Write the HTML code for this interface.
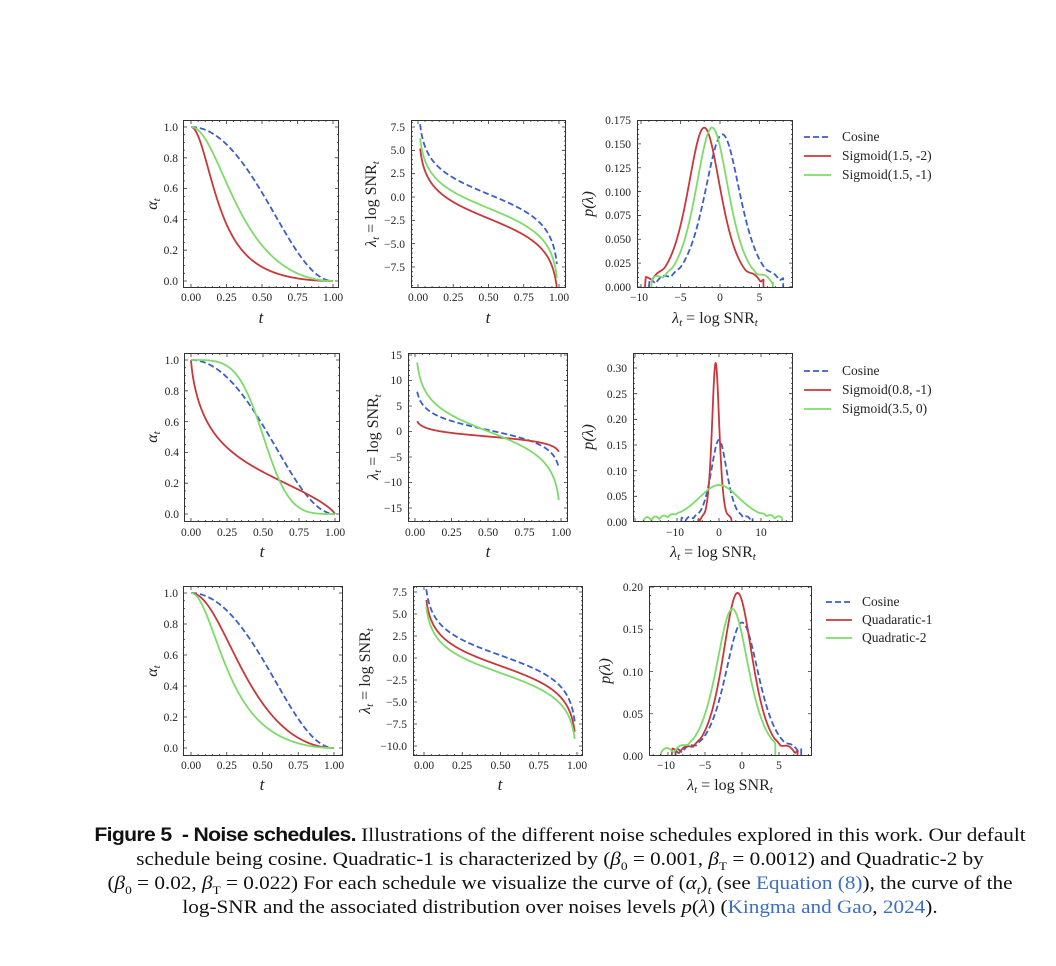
<!DOCTYPE html>
<html><head><meta charset="utf-8">
<style>
html,body{margin:0;padding:0;background:#fff;}
body{width:1056px;height:966px;position:relative;overflow:hidden;font-family:"Liberation Serif",serif;}
svg{position:absolute;left:0;top:0;}
.cap{position:absolute;left:32px;width:1056px;text-align:center;font-size:19px;color:#111;white-space:nowrap;transform:scaleX(1.115);transform-origin:528px 0;}
.b{font-family:"Liberation Sans",sans-serif;font-weight:bold;letter-spacing:-0.6px;}
.l{color:#3a6fc4;}
</style></head><body>
<svg id="s" width="1056" height="966" viewBox="0 0 1056 966" font-family="Liberation Serif, serif" fill="#222">
<g font-size="11.5" text-anchor="end">
<text x="178" y="131">1.0</text><text x="178" y="162">0.8</text><text x="178" y="192">0.6</text><text x="178" y="223">0.4</text><text x="178" y="254">0.2</text><text x="178" y="285">0.0</text>
<text x="405" y="131">7.5</text><text x="405" y="154">5.0</text><text x="405" y="177">2.5</text><text x="405" y="201">0.0</text><text x="405" y="224">−2.5</text><text x="405" y="248">−5.0</text><text x="405" y="271">−7.5</text>
<text x="631" y="124">0.175</text><text x="631" y="148">0.150</text><text x="631" y="172">0.125</text><text x="631" y="196">0.100</text><text x="631" y="219">0.075</text><text x="631" y="243">0.050</text><text x="631" y="267">0.025</text><text x="631" y="291">0.000</text>
<text x="179" y="364">1.0</text><text x="179" y="395">0.8</text><text x="179" y="426">0.6</text><text x="179" y="456">0.4</text><text x="179" y="487">0.2</text><text x="179" y="518">0.0</text>
<text x="402" y="359">15</text><text x="402" y="384">10</text><text x="402" y="410">5</text><text x="402" y="435">0</text><text x="402" y="461">−5</text><text x="402" y="486">−10</text><text x="402" y="512">−15</text>
<text x="627" y="372">0.30</text><text x="627" y="398">0.25</text><text x="627" y="423">0.20</text><text x="627" y="449">0.15</text><text x="627" y="475">0.10</text><text x="627" y="500">0.05</text><text x="627" y="526">0.00</text>
<text x="178" y="597">1.0</text><text x="178" y="628">0.8</text><text x="178" y="659">0.6</text><text x="178" y="690">0.4</text><text x="178" y="721">0.2</text><text x="178" y="752">0.0</text>
<text x="407" y="596">7.5</text><text x="407" y="618">5.0</text><text x="407" y="640">2.5</text><text x="407" y="662">0.0</text><text x="407" y="684">−2.5</text><text x="407" y="706">−5.0</text><text x="407" y="728">−7.5</text><text x="407" y="750">−10.0</text>
<text x="643" y="591">0.20</text><text x="643" y="633">0.15</text><text x="643" y="676">0.10</text><text x="643" y="718">0.05</text><text x="643" y="760">0.00</text>
</g>
<g font-size="11.5" text-anchor="middle">
<text x="191" y="301">0.00</text><text x="226.5" y="301">0.25</text><text x="262" y="301">0.50</text><text x="297.5" y="301">0.75</text><text x="333" y="301">1.00</text>
<text x="418" y="301">0.00</text><text x="453.3" y="301">0.25</text><text x="488.5" y="301">0.50</text><text x="523.8" y="301">0.75</text><text x="559" y="301">1.00</text>
<text x="639" y="301">−10</text><text x="680.5" y="301">−5</text><text x="720" y="301">0</text><text x="759.5" y="301">5</text>
<text x="191" y="536">0.00</text><text x="227" y="536">0.25</text><text x="263" y="536">0.50</text><text x="299" y="536">0.75</text><text x="335" y="536">1.00</text>
<text x="415" y="536">0.00</text><text x="451.5" y="536">0.25</text><text x="488" y="536">0.50</text><text x="524.5" y="536">0.75</text><text x="561" y="536">1.00</text>
<text x="675" y="536">−10</text><text x="719" y="536">0</text><text x="761" y="536">10</text>
<text x="191" y="769">0.00</text><text x="226.8" y="769">0.25</text><text x="262.5" y="769">0.50</text><text x="298.3" y="769">0.75</text><text x="334" y="769">1.00</text>
<text x="424" y="769">0.00</text><text x="462" y="769">0.25</text><text x="500.5" y="769">0.50</text><text x="538.8" y="769">0.75</text><text x="577" y="769">1.00</text>
<text x="666" y="769">−10</text><text x="705" y="769">−5</text><text x="742" y="769">0</text><text x="779" y="769">5</text>
</g>
<g font-size="17" text-anchor="middle" font-style="italic">
<text x="261" y="323">t</text><text x="488" y="323">t</text>
<text x="262" y="557">t</text><text x="488" y="557">t</text>
<text x="262" y="790">t</text><text x="500" y="790">t</text>
</g>
<g font-size="16" text-anchor="middle">
<text x="715" y="323"><tspan font-style="italic">λ</tspan><tspan font-size="11" font-style="italic" dy="3">t</tspan><tspan dy="-3"> = log SNR</tspan><tspan font-size="11" font-style="italic" dy="3">t</tspan></text>
<text x="713" y="557"><tspan font-style="italic">λ</tspan><tspan font-size="11" font-style="italic" dy="3">t</tspan><tspan dy="-3"> = log SNR</tspan><tspan font-size="11" font-style="italic" dy="3">t</tspan></text>
<text x="730" y="790"><tspan font-style="italic">λ</tspan><tspan font-size="11" font-style="italic" dy="3">t</tspan><tspan dy="-3"> = log SNR</tspan><tspan font-size="11" font-style="italic" dy="3">t</tspan></text>
<g font-style="italic">
<text transform="translate(157,204) rotate(-90)"><tspan>α</tspan><tspan font-size="11" dy="3">t</tspan></text>
<text transform="translate(157,437) rotate(-90)"><tspan>α</tspan><tspan font-size="11" dy="3">t</tspan></text>
<text transform="translate(157,671) rotate(-90)"><tspan>α</tspan><tspan font-size="11" dy="3">t</tspan></text>
<text transform="translate(593,204) rotate(-90)">p(λ)</text>
<text transform="translate(593,437) rotate(-90)">p(λ)</text>
<text transform="translate(610,671) rotate(-90)">p(λ)</text>
</g>
<text transform="translate(376,204) rotate(-90)"><tspan font-style="italic">λ</tspan><tspan font-size="11" font-style="italic" dy="3">t</tspan><tspan dy="-3"> = log SNR</tspan><tspan font-size="11" font-style="italic" dy="3">t</tspan></text>
<text transform="translate(378,437) rotate(-90)"><tspan font-style="italic">λ</tspan><tspan font-size="11" font-style="italic" dy="3">t</tspan><tspan dy="-3"> = log SNR</tspan><tspan font-size="11" font-style="italic" dy="3">t</tspan></text>
<text transform="translate(370,671) rotate(-90)"><tspan font-style="italic">λ</tspan><tspan font-size="11" font-style="italic" dy="3">t</tspan><tspan dy="-3"> = log SNR</tspan><tspan font-size="11" font-style="italic" dy="3">t</tspan></text>
</g>
<g font-size="13.5" fill="#222">
<text x="842" y="141">Cosine</text><text x="842" y="160">Sigmoid(1.5, -2)</text><text x="842" y="179">Sigmoid(1.5, -1)</text>
<text x="842" y="375">Cosine</text><text x="842" y="394">Sigmoid(0.8, -1)</text><text x="842" y="413">Sigmoid(3.5, 0)</text>
<text x="862" y="606">Cosine</text><text x="862" y="624">Quadaratic-1</text><text x="862" y="642">Quadratic-2</text>
</g>
<g stroke-width="1.8" fill="none">
<line x1="804" y1="137" x2="831" y2="137" stroke="#3b5fc9" stroke-dasharray="6,3"/><line x1="804" y1="156" x2="831" y2="156" stroke="#c8383a"/><line x1="804" y1="175" x2="831" y2="175" stroke="#7ddb6a"/>
<line x1="804" y1="371" x2="831" y2="371" stroke="#3b5fc9" stroke-dasharray="6,3"/><line x1="804" y1="390" x2="831" y2="390" stroke="#c8383a"/><line x1="804" y1="409" x2="831" y2="409" stroke="#7ddb6a"/>
<line x1="826" y1="602" x2="852" y2="602" stroke="#3b5fc9" stroke-dasharray="6,3"/><line x1="826" y1="620" x2="852" y2="620" stroke="#c8383a"/><line x1="826" y1="638" x2="852" y2="638" stroke="#7ddb6a"/>
</g>
<g id="plots"></g>
</svg>
<div class="cap" style="top:825px"><span class="b">Figure 5&nbsp; - Noise schedules.</span> Illustrations of the different noise schedules explored in this work. Our default</div>
<div class="cap" style="top:849px">schedule being cosine. Quadratic-1 is characterized by (<i>β</i><sub style="font-size:12px">0</sub> = 0.001, <i>β</i><sub style="font-size:12px">T</sub> = 0.0012) and Quadratic-2 by</div>
<div class="cap" style="top:873px">(<i>β</i><sub style="font-size:12px">0</sub> = 0.02, <i>β</i><sub style="font-size:12px">T</sub> = 0.022) For each schedule we visualize the curve of (<i>α<sub style="font-size:12px">t</sub></i>)<sub style="font-size:12px"><i>t</i></sub> (see <span class="l">Equation (8)</span>), the curve of the</div>
<div class="cap" style="top:897px">log-SNR and the associated distribution over noises levels <i>p</i>(<i>λ</i>) (<span class="l">Kingma and Gao</span>, <span class="l">2024</span>).</div>
<script>
(function(){
const NS='http://www.w3.org/2000/svg';
const G=document.getElementById('plots');
function el(t,a,p){const e=document.createElementNS(NS,t);for(const k in a)e.setAttribute(k,a[k]);(p||G).appendChild(e);return e;}
const BLUE='#3b5fc9',RED='#c8383a',GRN='#7ddb6a';
let cid=0;
function panel(p){
 const b=p.box;
 const X=v=>p.xm[1]+(v-p.xm[0])*(p.xm[3]-p.xm[1])/(p.xm[2]-p.xm[0]);
 const Y=v=>p.ym[1]+(v-p.ym[0])*(p.ym[3]-p.ym[1])/(p.ym[2]-p.ym[0]);
 const id='c'+(cid++);
 const cp=el('clipPath',{id:id});el('rect',{x:b[0],y:b[1],width:b[2]-b[0],height:b[3]-b[1]},cp);
 const g=el('g',{'clip-path':'url(#'+id+')'});
 p.series.forEach(s=>{
  let d='';s.pts.forEach((q,i)=>{d+=(i?'L':'M')+X(q[0]).toFixed(2)+' '+Y(q[1]).toFixed(2);});
  const a={d:d,fill:'none',stroke:s.c,'stroke-width':1.8,'stroke-linejoin':'round'};
  if(s.dash)a['stroke-dasharray']='6,3';
  el('path',a,g);
 });
 el('rect',{x:b[0]+0.5,y:b[1]+0.5,width:b[2]-b[0]-1,height:b[3]-b[1]-1,fill:'none',stroke:'#333','stroke-width':1});
 let d='';
 function ticks(maj,mn,isX){
  for(let k=-400;k<=400;k++){const v=k*mn;const isMaj=Math.abs(v/maj-Math.round(v/maj))<1e-6;const L=isMaj?4:2;
   if(isX){const x=X(v);if(x<b[0]+1||x>b[2]-1)continue;d+='M'+x+' '+b[3]+'v'+(-L)+'M'+x+' '+b[1]+'v'+L;}
   else{const y=Y(v);if(y<b[1]+1||y>b[3]-1)continue;d+='M'+b[0]+' '+y+'h'+L+'M'+b[2]+' '+y+'h'+(-L);}}
 }
 ticks(p.xt[0],p.xt[1],true);ticks(p.yt[0],p.yt[1],false);
 el('path',{d:d,stroke:'#333','stroke-width':0.8,fill:'none'});
}
const C=t=>-2*Math.log(Math.tan(Math.PI*t/2))+0.3;
const sig=x=>1/(1+Math.exp(-x));
function lam(f){const r=[];for(let t=0.015;t<=0.9881;t+=0.005)r.push([t,f(C(t))]);return r;}
function alp(f){const r=[[0,1]];for(let t=0.005;t<=0.995;t+=0.005)r.push([t,sig(f(C(t)))]);r.push([1,0]);return r;}
function dens(mu,A,w,lo,hi,ph){const r=[[lo,0]];for(let x=lo+0.1;x<hi;x+=0.1){let v=A*Math.pow(1/Math.cosh((x-mu)/w),1.5);
 if(v<0.02){v+=0.008*Math.abs(Math.sin(1.6*x+ph))*(1-v/0.02);} r.push([x,v]);}r.push([hi,0]);return r;}
const fs1=[x=>x,x=>x-2.6,x=>x-1.5], fs2=[x=>x,x=>0.4*x-1.1,x=>1.8*x-0.5], fs3=[x=>x,x=>x-1.2,x=>x-2];
const cols=[[BLUE,1],[RED,0],[GRN,0]];
function mk(fs,gen){return fs.map((f,i)=>({pts:gen(f),c:cols[i][0],dash:cols[i][1]}));}
panel({box:[183,120,339,288],xm:[0,191,1,333],ym:[1,127,0,281],xt:[0.25,0.05],yt:[0.2,0.05],series:mk(fs1,alp)});
panel({box:[411,120,566,288],xm:[0,418,1,559],ym:[7.5,127,-7.5,267],xt:[0.25,0.05],yt:[2.5,0.5],series:mk(fs1,lam)});
panel({box:[637,120,793,288],xm:[-10,641,5,759.5],ym:[0.175,120,0,287],xt:[5,1],yt:[0.025,0.005],series:[
 {pts:dens(0.3,0.16,2.6,-9,8,0.5),c:BLUE,dash:1},{pts:dens(-2,0.167,2.4,-9.5,5.5,1.2),c:RED},{pts:dens(-1,0.167,2.4,-8.7,6.7,2.0),c:GRN}]});
panel({box:[184,353,340,522],xm:[0,191,1,335],ym:[1,360,0,514],xt:[0.25,0.05],yt:[0.2,0.05],series:mk(fs2,alp)});
panel({box:[408,353,568,522],xm:[0,415,1,561],ym:[15,355,-15,508],xt:[0.25,0.05],yt:[5,1],series:mk(fs2,lam)});
panel({box:[633,353,793,522],xm:[-10,677,10,761],ym:[0.3,368,0,522],xt:[10,2],yt:[0.05,0.01],series:[
 {pts:dens(0,0.16,2.2,-9,8,0.3),c:BLUE,dash:1},{pts:dens(-0.8,0.31,1.0,-5,3,1),c:RED},{pts:dens(0,0.072,6,-18,15,0.7),c:GRN}]});
panel({box:[183,586,343,756],xm:[0,191,1,334],ym:[1,593,0,748],xt:[0.25,0.05],yt:[0.2,0.05],series:mk(fs3,alp)});
panel({box:[413,586,583,756],xm:[0,424,1,577],ym:[7.5,592,-10,746],xt:[0.25,0.05],yt:[2.5,0.5],series:mk(fs3,lam)});
panel({box:[649,586,812,756],xm:[-10,668,5,779],ym:[0.2,587,0,756],xt:[5,1],yt:[0.05,0.01],series:[
 {pts:dens(0,0.158,2.6,-9,8,0.4),c:BLUE,dash:1},{pts:dens(-0.6,0.193,2.3,-9.5,7.5,1.1),c:RED},{pts:dens(-1.3,0.174,2.5,-11,4.5,2.2),c:GRN}]});
})();
</script>
</body></html>
